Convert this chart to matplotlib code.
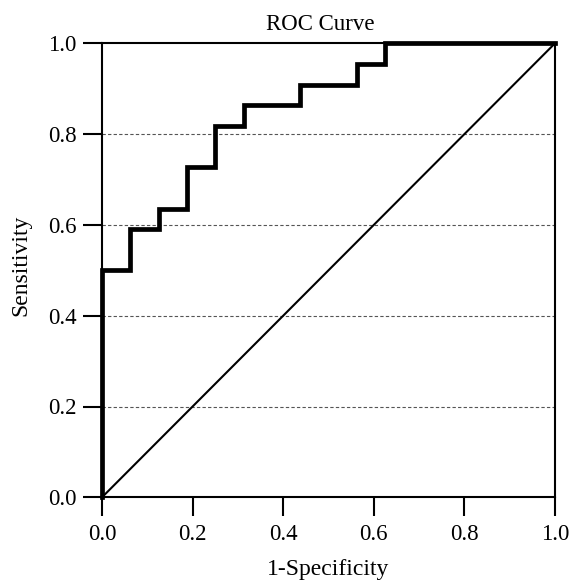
import matplotlib
matplotlib.use("Agg")
import matplotlib.pyplot as plt

# ROC curve points (1-Specificity, Sensitivity)
fpr = [0.0, 0.0, 0.0625, 0.0625, 0.125, 0.125, 0.1875, 0.1875, 0.25, 0.25,
       0.3125, 0.3125, 0.4375, 0.4375, 0.5625, 0.5625, 0.625, 0.625, 1.0]
tpr = [0.0, 0.5, 0.5, 0.591, 0.591, 0.636, 0.636, 0.727, 0.727, 0.818,
       0.818, 0.864, 0.864, 0.909, 0.909, 0.955, 0.955, 1.0, 1.0]
ref_line = [0.0, 1.0]
ticks = [0.0, 0.2, 0.4, 0.6, 0.8, 1.0]
tick_labels = ["0.0", "0.2", "0.4", "0.6", "0.8", "1.0"]
grid_levels = [0.2, 0.4, 0.6, 0.8]

plt.rcParams['font.family'] = ['Liberation Serif', 'DejaVu Serif']

W, H = 572, 580
fig = plt.figure(figsize=(W / 100, H / 100), dpi=100)
ax = fig.add_axes([102/W, 1 - 497.3/H, 453/W, 454/H])

for g in grid_levels:
    ax.axhline(g, color='#555555', lw=0.8, ls=(0, (3, 2)), zorder=1)

ax.plot(ref_line, ref_line, color='black', lw=1.5, zorder=2, solid_capstyle='butt')
ax.plot(fpr, tpr, color='black', lw=3.4, zorder=3, solid_joinstyle='miter', clip_on=False)

ax.set_xlim(0, 1)
ax.set_ylim(0, 1)
ax.set_xticks(ticks)
ax.set_xticklabels(tick_labels)
ax.set_yticks(ticks)
ax.set_yticklabels(tick_labels)

for s in ax.spines.values():
    s.set_linewidth(1.5)
ax.tick_params(axis='both', direction='out', length=13.5, width=1.5, labelsize=16.5)
ax.tick_params(axis='x', pad=6)
ax.tick_params(axis='y', pad=5)

fig.text(320/W, 1 - 30/H, "ROC Curve", fontsize=16.5, ha='center', va='baseline')
fig.text(328.5/W, 1 - 575/H, "1-Specificity", fontsize=17, ha='center', va='baseline')
fig.text(21/W, 1 - 265/H, "Sensitivity", fontsize=17, ha='center', va='center', rotation=90)

fig.savefig("out.png", dpi=100)
